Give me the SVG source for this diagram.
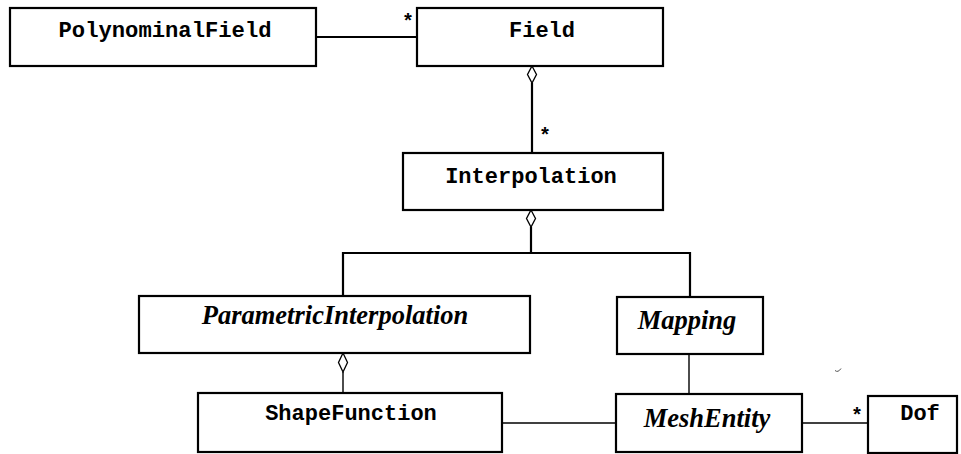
<svg xmlns="http://www.w3.org/2000/svg" width="961" height="454" viewBox="0 0 961 454">
  <style>
    .box { fill: #ffffff; stroke: #000000; stroke-width: 2.2; }
    .mono { font-family: "Liberation Mono", "Courier New", monospace; font-weight: bold; font-size: 22px; fill: #000000; text-anchor: middle; }
    .ital { font-family: "Liberation Serif", "Times New Roman", serif; font-weight: bold; font-style: italic; font-size: 26.5px; fill: #000000; text-anchor: middle; }
    .thick { fill: none; stroke: #000000; stroke-width: 2.2; }
    .thin { fill: none; stroke: #000000; stroke-width: 1.4; }
    .dia { fill: #ffffff; stroke: #000000; stroke-width: 1.3; }
    .mult { font-family: "Liberation Mono", "Courier New", monospace; font-weight: bold; font-size: 20px; fill: #000000; text-anchor: middle; }
  </style>

  <!-- connectors -->
  <g id="connectors">
    <!-- PolynominalField - Field -->
    <line class="thick" x1="316" y1="37" x2="417" y2="37"/>
    <text class="mult" x="408" y="28">*</text>

    <!-- Field aggregates Interpolation -->
    <line class="thick" x1="532" y1="83" x2="532" y2="153"/>
    <polygon class="dia" points="532,66 536.5,74.5 532,83 527.5,74.5"/>
    <text class="mult" x="545" y="142">*</text>

    <!-- Interpolation aggregates ParametricInterpolation and Mapping -->
    <line class="thick" x1="531" y1="227" x2="531" y2="253"/>
    <polygon class="dia" points="531,210 535.5,218.5 531,227 526.5,218.5"/>
    <polyline class="thick" points="343,296 343,253 690,253 690,297"/>

    <!-- ParametricInterpolation aggregates ShapeFunction -->
    <line class="thin" x1="343" y1="372" x2="343" y2="393"/>
    <polygon class="dia" points="343,353 347.5,362.5 343,372 338.5,362.5"/>

    <!-- Mapping - MeshEntity -->
    <line class="thin" x1="689" y1="354" x2="689" y2="394"/>

    <!-- ShapeFunction - MeshEntity -->
    <line class="thin" x1="502" y1="423" x2="616" y2="423"/>

    <!-- MeshEntity - Dof -->
    <line class="thin" x1="802" y1="423" x2="868" y2="423"/>
    <text class="mult" x="857" y="422">*</text>
  </g>

  <g id="PolynominalField">
    <rect class="box" x="10" y="8" width="306" height="58"/>
    <text class="mono" x="165" y="37" textLength="213" lengthAdjust="spacingAndGlyphs">PolynominalField</text>
  </g>

  <g id="Field">
    <rect class="box" x="417" y="8" width="246" height="58"/>
    <text class="mono" x="542" y="37">Field</text>
  </g>

  <g id="Interpolation">
    <rect class="box" x="403" y="153" width="260" height="57"/>
    <text class="mono" x="531" y="183">Interpolation</text>
  </g>

  <g id="ParametricInterpolation">
    <rect class="box" x="139" y="296" width="391" height="57"/>
    <text class="ital" x="335" y="324">ParametricInterpolation</text>
  </g>

  <g id="Mapping">
    <rect class="box" x="617" y="297" width="146" height="57"/>
    <text class="ital" x="687" y="329">Mapping</text>
  </g>

  <g id="ShapeFunction">
    <rect class="box" x="198" y="393" width="304" height="59"/>
    <text class="mono" x="351" y="420">ShapeFunction</text>
  </g>

  <g id="MeshEntity">
    <rect class="box" x="616" y="394" width="186" height="58"/>
    <text class="ital" x="707" y="427">MeshEntity</text>
  </g>

  <g id="Dof">
    <rect class="box" x="868" y="396" width="89" height="57"/>
    <text class="mono" x="920" y="420">Dof</text>
  </g>

  <!-- small stray tick -->
  <path d="M835,370.5 Q838,373 841,368.5" fill="none" stroke="#555555" stroke-width="1"/>
</svg>
